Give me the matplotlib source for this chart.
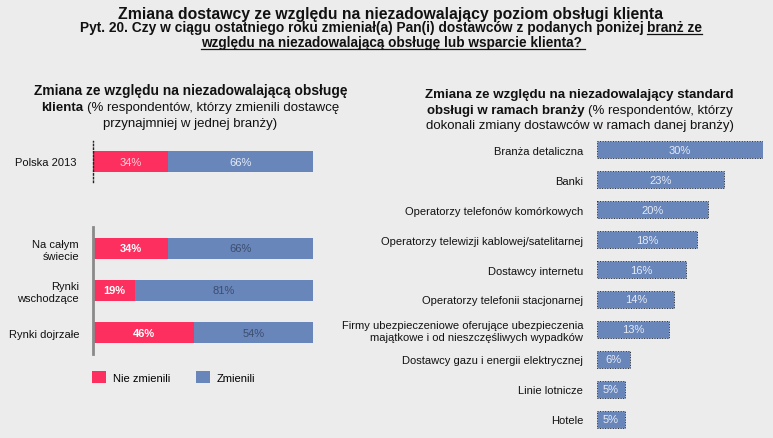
import matplotlib
matplotlib.use("Agg")
import matplotlib.pyplot as plt
from matplotlib.lines import Line2D

W, H = 773, 439

# --- data ---
poland_labels = ["Polska 2013"]
poland_not = [34]
poland_yes = [66]

region_labels = ["Na całym\nświecie", "Rynki\nwschodzące", "Rynki dojrzałe"]
region_not = [34, 19, 46]
region_yes = [66, 81, 54]

legend_labels = ["Nie zmienili", "Zmienili"]

sector_labels = ["Branża detaliczna", "Banki", "Operatorzy telefonów komórkowych",
                 "Operatorzy telewizji kablowej/satelitarnej", "Dostawcy internetu",
                 "Operatorzy telefonii stacjonarnej",
                 "Firmy ubezpieczeniowe oferujące ubezpieczenia\nmajątkowe i od nieszczęśliwych wypadków",
                 "Dostawcy gazu i energii elektrycznej", "Linie lotnicze", "Hotele"]
sector_vals = [30, 23, 20, 18, 16, 14, 13, 6, 5, 5]

PINK = "#fd2f5e"
BLUE = "#6886ba"
BG = "#ececec"
FONT = ["Liberation Sans", "DejaVu Sans"]
plt.rcParams['font.family'] = FONT

fig = plt.figure(figsize=(W / 100, H / 100), dpi=100, facecolor=BG)
renderer = fig.canvas.get_renderer()


def px_axes(x0, y0, x1, y1):
    ax = fig.add_axes([x0 / W, 1 - y1 / H, (x1 - x0) / W, (y1 - y0) / H])
    ax.set_facecolor("none")
    return ax


def rich_line(parts, xc, y, size, fit=None):
    # parts: (text, bold, underline); y is baseline in pixels from top
    texts = []
    for s, b, u in parts:
        t = fig.text(0, 1 - y / H, s, fontsize=size, family=FONT,
                     fontweight="bold" if b else "normal", va="baseline", color="#111111")
        texts.append(t)
    gap = size * 0.27 * 100 / 72
    widths = [t.get_window_extent(renderer).width for t in texts]
    total = sum(widths) + gap * (len(parts) - 1)
    if fit:
        k = fit / total
        for t in texts:
            t.set_fontsize(size * k)
        widths = [w * k for w in widths]
        gap *= k
        total = fit
    x = xc - total / 2
    for t, wd, (s, b, u) in zip(texts, widths, parts):
        t.set_x(x / W)
        if u:
            yl = 1 - (y + 2.5) / H
            fig.add_artist(Line2D([x / W, (x + wd) / W], [yl, yl], color="#111111", lw=0.9))
        x += wd + gap


# --- titles ---
rich_line([("Zmiana dostawcy ze względu na niezadowalający poziom obsługi klienta", True, False)],
          390, 19, 12.5, fit=545)
rich_line([("Pyt. 20. Czy w ciągu ostatniego roku zmieniał(a) Pan(i) dostawców z podanych poniżej", True, False),
           ("branż ze", True, True)], 391, 32, 9.5, fit=621)
rich_line([("względu na niezadowalającą obsługę lub wsparcie klienta?", True, True)], 393, 47, 9.5, fit=383)

rich_line([("Zmiana ze względu na niezadowalającą obsługę", True, False)], 190, 95, 9.5, fit=313)
rich_line([("klienta", True, False), ("(% respondentów, którzy zmienili dostawcę", False, False)],
          190, 111, 9.5)
rich_line([("przynajmniej w jednej branży)", False, False)], 190, 127, 9.5)

rich_line([("Zmiana ze względu na niezadowalający standard", True, False)], 580, 98, 9.5, fit=310)
rich_line([("obsługi w ramach branży", True, False), ("(% respondentów, którzy", False, False)],
          580, 114, 9.5)
rich_line([("dokonali zmiany dostawców w ramach danej branży)", False, False)], 580, 129, 9.5)


# --- left top: Polska 2013 ---
ax1 = px_axes(93, 142, 313, 183)
ax1.barh(range(len(poland_labels)), poland_not, height=0.98, color=PINK)
ax1.barh(range(len(poland_labels)), poland_yes, left=poland_not, height=0.98, color=BLUE)
ax1.set_xlim(0, 100)
ax1.set_ylim(1, -1)
for i in range(len(poland_labels)):
    ax1.text(poland_not[i] / 2, i, f"{poland_not[i]}%", ha="center", va="center",
             fontsize=8, color="#ffd3dc")
    ax1.text(poland_not[i] + poland_yes[i] / 2, i, f"{poland_yes[i]}%", ha="center", va="center",
             fontsize=8, color="#e6ebf5")
ax1.set_yticks(range(len(poland_labels)), poland_labels, fontsize=8, color="#111111")
ax1.set_xticks([])
ax1.tick_params(axis="y", length=0, pad=12)
for s in ["top", "right", "bottom"]:
    ax1.spines[s].set_visible(False)
ax1.spines["left"].set_linestyle(":")
ax1.spines["left"].set_color("#222222")
ax1.spines["left"].set_linewidth(1)

# --- left bottom: regions ---
ax2 = px_axes(93, 228, 313, 355)
y2 = range(len(region_labels))
h_not = ax2.barh(y2, region_not, height=0.5, color=PINK, label=legend_labels[0])
h_yes = ax2.barh(y2, region_yes, left=region_not, height=0.5, color=BLUE, label=legend_labels[1])
ax2.set_xlim(0, 100)
ax2.set_ylim(2.5, -0.5)
for i in y2:
    ax2.text(region_not[i] / 2, i, f"{region_not[i]}%", ha="center", va="center",
             fontsize=8, color="white", fontweight="bold")
    ax2.text(region_not[i] + region_yes[i] / 2, i, f"{region_yes[i]}%", ha="center", va="center",
             fontsize=8, color="#3d4d6e")
ax2.set_yticks(list(y2), region_labels, fontsize=8, color="#111111", ha="right",
               multialignment="right")
ax2.set_xticks([])
ax2.tick_params(axis="y", length=0, pad=10)
for s in ["top", "right", "bottom"]:
    ax2.spines[s].set_visible(False)
ax2.spines["left"].set_color("#8a8a8a")
ax2.spines["left"].set_linewidth(2)

fig.legend(handles=[h_not, h_yes], labels=legend_labels, loc="upper left",
           bbox_to_anchor=(82 / W, 1 - 362 / H), ncol=2, frameon=False, fontsize=8,
           handlelength=1.3, handleheight=1.3, columnspacing=2.3, handletextpad=0.6)

# --- right: sectors ---
ax3 = px_axes(597, 136, 763, 435)
y3 = range(len(sector_labels))
ax3.barh(y3, sector_vals, height=0.57, color=BLUE, edgecolor="#2b2b2b",
         linewidth=0.7, linestyle=":")
ax3.set_xlim(0, 30)
ax3.set_ylim(9.5, -0.5)
for i in y3:
    ax3.text(sector_vals[i] / 2, i, f"{sector_vals[i]}%", ha="center", va="center",
             fontsize=8, color="#e6ebf5")
ax3.set_yticks(list(y3), sector_labels, fontsize=8, color="#111111", ha="right",
               multialignment="right")
ax3.set_xticks([])
ax3.tick_params(axis="y", length=0, pad=10)
for s in ax3.spines.values():
    s.set_visible(False)

fig.savefig("out.png", dpi=100, facecolor=BG)
